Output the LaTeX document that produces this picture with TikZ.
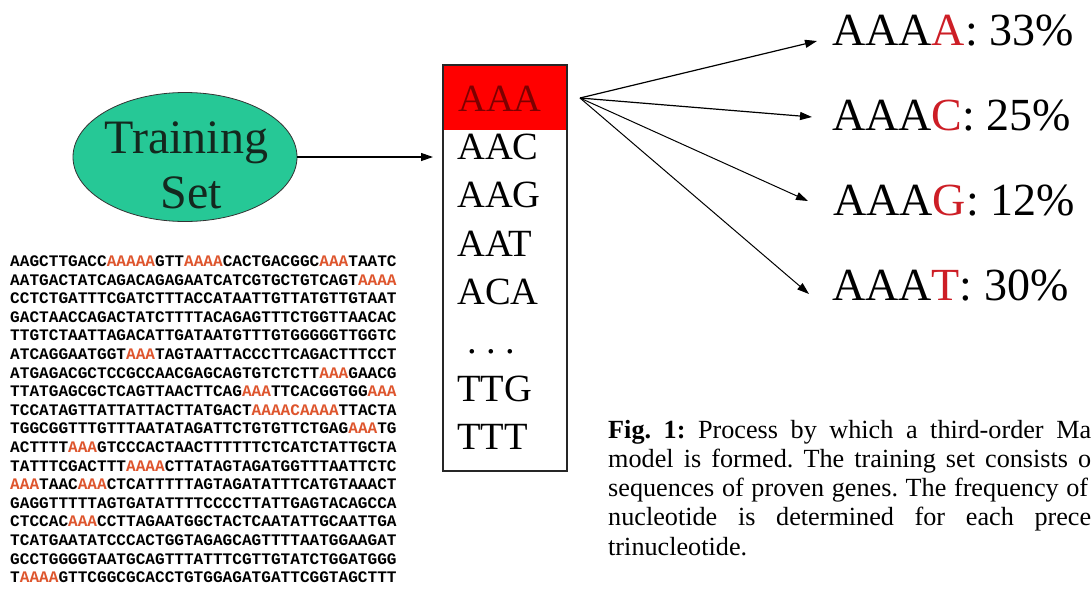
\documentclass[tikz,border=0pt]{standalone}
\usepackage{fontspec}
\setmainfont{Liberation Serif}
\newfontfamily\dnafont{Liberation Mono}
\usetikzlibrary{arrows.meta,shapes.geometric}
\definecolor{tsgreen}{RGB}{38,200,150}
\definecolor{tstext}{RGB}{20,40,30}
\definecolor{hdrred}{RGB}{255,0,0}
\definecolor{hdrtext}{RGB}{125,0,0}
\definecolor{lblred}{RGB}{205,30,38}
\definecolor{dnared}{RGB}{222,85,45}
\newcommand{\rA}[1]{\textcolor{dnared}{#1}}
\newcommand{\rL}[1]{\textcolor{lblred}{#1}}
\begin{document}
\frenchspacing
\begin{tikzpicture}[x=1pt,y=-1pt,
  arr/.style={line width=1.2pt,-{Triangle[length=12pt,width=8pt]}},
  dna/.style={anchor=base west,inner sep=0pt,font=\dnafont\bfseries\fontsize{16.1}{18}\selectfont},
  tstxt/.style={anchor=base,inner sep=0pt,text=tstext,font=\fontsize{48}{55}\selectfont},
  boxtxt/.style={anchor=base west,inner sep=0pt,font=\fontsize{38.5}{44}\selectfont},
  lbl/.style={anchor=base west,inner sep=0pt,font=\fontsize{46}{52}\selectfont},
  captxt/.style={anchor=base west,inner sep=0pt,font=\fontsize{26.2}{29}\selectfont}]
\useasboundingbox (0,0) rectangle (1092,592);
\fill[white] (0,0) rectangle (1092,592);

% training set ellipse
\node[ellipse,draw=black!80,line width=0.8pt,fill=tsgreen,minimum width=224pt,minimum height=129pt,inner sep=0pt] (ts) at (185,157) {};
\node[tstxt] (tr) at (186.5,153) {Training};
\node[tstxt] (st) at (191,208) {Set};

% trinucleotide box
\node[fill=hdrred,minimum width=124pt,minimum height=66pt,anchor=north west,inner sep=0pt] (hdr) at (442,64) {};
\node[draw=black!85,line width=1.5pt,minimum width=124pt,minimum height=406pt,anchor=north west,inner sep=0pt] (box) at (442,64) {};
\node[boxtxt,text=hdrtext] (b1) at (458,111) {AAA};
\node[boxtxt] (b2) at (457,159.4) {AAC};
\node[boxtxt] (b3) at (457,207.8) {AAG};
\node[boxtxt] (b4) at (457,256.2) {AAT};
\node[boxtxt] (b5) at (457,304.6) {ACA};
\node[boxtxt] (b6) at (467,353) {. . .};
\node[boxtxt] (b7) at (457,401.4) {TTG};
\node[boxtxt] (b8) at (457,449.8) {TTT};

\draw[arr,shorten >=9pt] (ts.east) -- (ts.east -| box.west);

% probabilities
\node[lbl] (lA) at (832,45) {AAA\rL{A}: 33\%};
\node[lbl] (lC) at (832,130) {AAA\rL{C}: 25\%};
\node[lbl] (lG) at (833,215) {AAA\rL{G}: 12\%};
\node[lbl] (lT) at (832,300) {AAA\rL{T}: 30\%};
\coordinate (src) at (580,98);
\coordinate (tA) at (817,41);
\coordinate (tC) at (812,117);
\coordinate (tG) at (808,201);
\coordinate (tT) at (809,294);
\draw[arr] (src) -- (tA);
\draw[arr] (src) -- (tC);
\draw[arr,line width=1pt] (src) -- (tG);
\draw[arr,line width=1pt] (src) -- (tT);

% sequences
\foreach \s [count=\i] in {
AAGCTTGACC\rA{AAAAA}GTT\rA{AAAA}CACTGACGGC\rA{AAA}TAATC,
AATGACTATCAGACAGAGAATCATCGTGCTGTCAGT\rA{AAAA},
CCTCTGATTTCGATCTTTACCATAATTGTTATGTTGTAAT,
GACTAACCAGACTATCTTTTACAGAGTTTCTGGTTAACAC,
TTGTCTAATTAGACATTGATAATGTTTGTGGGGGTTGGTC,
ATCAGGAATGGT\rA{AAA}TAGTAATTACCCTTCAGACTTTCCT,
ATGAGACGCTCCGCCAACGAGCAGTGTCTCTT\rA{AAA}GAACG,
TTATGAGCGCTCAGTTAACTTCAG\rA{AAA}TTCACGGTGG\rA{AAA},
TCCATAGTTATTATTACTTATGACT\rA{AAAACAAAA}TTACTA,
TGGCGGTTTGTTTAATATAGATTCTGTGTTCTGAG\rA{AAA}TG,
ACTTTT\rA{AAA}GTCCCACTAACTTTTTTCTCATCTATTGCTA,
TATTTCGACTTT\rA{AAAA}CTTATAGTAGATGGTTTAATTCTC,
\rA{AAA}TAAC\rA{AAA}CTCATTTTTAGTAGATATTTCATGTAAACT,
GAGGTTTTTAGTGATATTTTCCCCTTATTGAGTACAGCCA,
CTCCAC\rA{AAA}CCTTAGAATGGCTACTCAATATTGCAATTGA,
TCATGAATATCCCACTGGTAGAGCAGTTTTAATGGAAGAT,
GCCTGGGGTAATGCAGTTTATTTCGTTGTATCTGGATGGG,
T\rA{AAAA}GTTCGGCGCACCTGTGGAGATGATTCGGTAGCTTT}
  \node[dna] (d\i) at (10,{266.5+18.6*(\i-1)}) {\s};

% caption (cut off at the right edge, as in the reference)
\node[captxt] (c1) at (608,438) {\makebox[483pt][s]{\textbf{Fig. 1:} Process by which a third-order Ma}};
\node[captxt] (c2) at (608,467.25) {\makebox[483pt][s]{model is formed. The training set consists o}};
\node[captxt] (c3) at (608,496.5) {\makebox[480pt][s]{sequences of proven genes. The frequency of}};
\node[captxt] (c4) at (608,525.75) {\makebox[483pt][s]{nucleotide is determined for each prece}};
\node[captxt] (c5) at (608,555) {trinucleotide.};
\end{tikzpicture}
\end{document}
